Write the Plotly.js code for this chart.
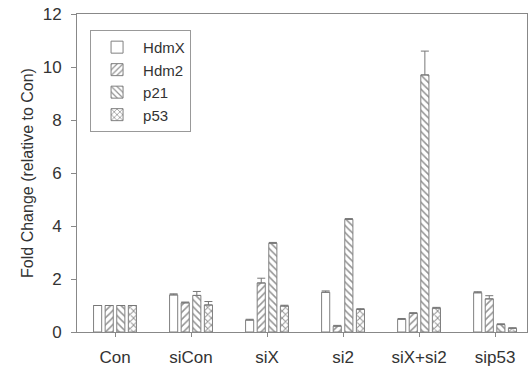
<!DOCTYPE html>
<html>
<head>
<meta charset="utf-8">
<script src="https://cdn.plot.ly/plotly-3.0.1.min.js"></script>
<style>html,body{margin:0;padding:0;background:#fff;}#chart{width:530px;height:367px;}</style>
</head>
<body>
<div id="chart"></div>
<script>
const categories = ["Con", "siCon", "siX", "si2", "siX+si2", "sip53"];
const seriesNames = ["HdmX", "Hdm2", "p21", "p53"];
const hdmX = [1.0, 1.4, 0.45, 1.5, 0.48, 1.48];
const hdm2 = [1.0, 1.1, 1.85, 0.22, 0.7, 1.25];
const p21 = [1.0, 1.38, 3.35, 4.25, 9.7, 0.28];
const p53 = [1.0, 1.02, 0.98, 0.85, 0.9, 0.14];
const hdmXErr = [0.0, 0.04, 0.03, 0.05, 0.03, 0.04];
const hdm2Err = [0.0, 0.03, 0.18, 0.03, 0.03, 0.12];
const p21Err = [0.0, 0.15, 0.03, 0.03, 0.9, 0.03];
const p53Err = [0.0, 0.13, 0.03, 0.03, 0.03, 0.02];
const yTicks = [0, 2, 4, 6, 8, 10, 12];

const values = [hdmX, hdm2, p21, p53];
const errs = [hdmXErr, hdm2Err, p21Err, p53Err];
const shapes = ["", "/", "\\", "x"];
const traces = seriesNames.map((n, i) => ({
  type: "bar",
  name: n,
  x: categories,
  y: values[i],
  marker: {
    color: "#ffffff",
    line: {color: "#808080", width: 1},
    pattern: {shape: shapes[i], fgcolor: "#939393", bgcolor: "#ffffff", size: 5, solidity: i === 3 ? 0.35 : 0.3}
  },
  error_y: {type: "data", symmetric: false, array: errs[i], arrayminus: errs[i].map(() => 0), color: "#777777", thickness: 1, width: 4}
}));

const layout = {
  width: 530, height: 367,
  margin: {l: 77, r: 3, t: 14, b: 35},
  paper_bgcolor: "#ffffff", plot_bgcolor: "#ffffff",
  font: {family: "Liberation Sans, Arial, sans-serif", size: 16, color: "#333333"},
  barmode: "group", bargap: 0.39, bargroupgap: 0.3,
  showlegend: true,
  legend: {x: 0.029, y: 0.95, xanchor: "left", yanchor: "top", bordercolor: "#999999", borderwidth: 1,
           bgcolor: "#ffffff", font: {size: 15, color: "#333333"}, tracegroupgap: 0, itemwidth: 42},
  xaxis: {type: "category", range: [-0.5, 5.42], showline: true, linecolor: "#888888", linewidth: 1, mirror: true,
          ticks: "outside", ticklen: 4, tickcolor: "#888888", showgrid: false, zeroline: false,
          ticklabelstandoff: 6,
          tickfont: {size: 17, color: "#333333"}},
  yaxis: {range: [0, 12], tickvals: yTicks, showline: true, linecolor: "#888888", linewidth: 1, mirror: true,
          ticks: "outside", ticklen: 5, tickcolor: "#888888", showgrid: false, zeroline: false,
          ticklabelstandoff: 6,
          tickfont: {size: 17, color: "#333333"},
          title: {text: "Fold Change (relative to Con)", font: {size: 16, color: "#333333"}, standoff: 5}}
};
Plotly.newPlot("chart", traces, layout, {displayModeBar: false, staticPlot: true});
</script>
</body>
</html>
